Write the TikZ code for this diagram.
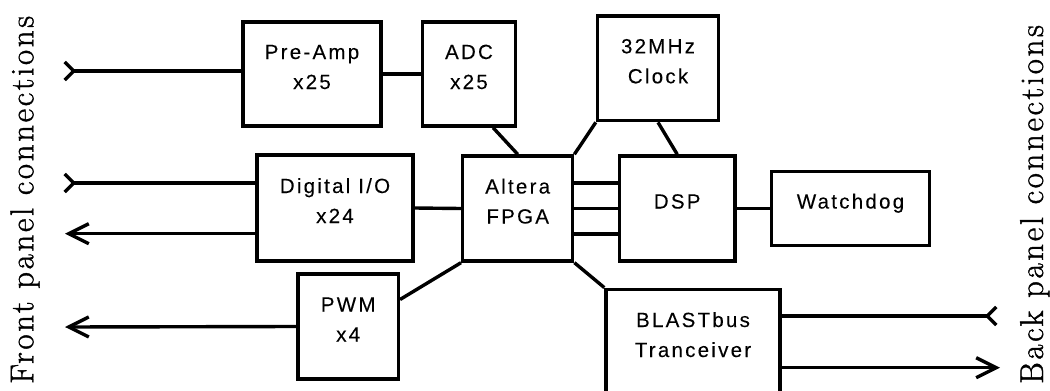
\documentclass[tikz,border=0pt]{standalone}
\usepackage{fontspec}
\setmainfont{Latin Modern Roman}
\newfontfamily\boxfont[LetterSpace=11,FakeBold=0.1]{Liberation Sans}
\newfontfamily\sidefont[LetterSpace=8,FakeBold=1.2]{Latin Modern Roman}
\usetikzlibrary{arrows.meta,calc}
\begin{document}
\begin{tikzpicture}[x=1pt,y=-1pt,
  blk/.style 2 args={draw,line width=3.4pt,inner sep=0pt,minimum width=#1,minimum height=#2},
  txt/.style={font=\boxfont\fontsize{20.5}{30}\selectfont,align=center,anchor=base,inner sep=0pt},
  wire/.style={line width=3.4pt},
  intail/.style={wire,arrows={Straight Barb[reversed,length=9pt,width=18pt]-}},
  intailr/.style={wire,arrows={-Straight Barb[reversed,length=9pt,width=18pt]}},
  outhead/.style={wire,arrows={-Straight Barb[length=20pt,width=20pt]}},
  side/.style={font=\sidefont\fontsize{33}{40}\selectfont,rotate=90,anchor=base west,inner sep=0pt}]
\clip (0,0) rectangle (1050,391);
% boxes
\node[blk={138}{104}] (pre) at (312,74) {};
\node[blk={93}{104}] (adc) at (469,74) {};
\node[blk={121}{104.7}] (clk) at (658,68.3) {};
\node[blk={155.7}{106}] (dig) at (335,208) {};
\node[blk={110}{105}] (fpga) at (517.7,208.5) {};
\node[blk={115.7}{105}] (dsp) at (677.2,208.5) {};
\node[blk={157.6}{73.6}] (wd) at (850.5,208.5) {};
\node[blk={100.3}{105}] (pwm) at (348.2,326.5) {};
\node[blk={174}{105.4}] (blast) at (693,342) {};
% texts (base = last line's baseline)
\node[txt] (preT) at ([yshift=-15pt]pre.center) {Pre-Amp\\x25};
\node[txt] (adcT) at ([yshift=-15pt]adc.center) {ADC\\x25};
\node[txt] (clkT) at ([yshift=-15pt]clk.center) {32MHz\\Clock};
\node[txt] (digT) at ([yshift=-15pt]dig.center) {Digital I/O\\x24};
\node[txt] (fpgaT) at ([yshift=-15pt]fpga.center) {Altera\\FPGA};
\node[txt] (dspT) at (dsp.center) {DSP};
\node[txt] (wdT) at (wd.center) {Watchdog};
\node[txt] (pwmT) at ([yshift=-15pt]pwm.center) {PWM\\x4};
\node[txt] (blastT) at ([yshift=-15pt]blast.center) {BLASTbus\\Tranceiver};
% side labels
\node[side] (front) at (33.3,384) {Front panel connections};
\node[side] (back) at (1043,384) {Back panel connections};
% free ends
\coordinate (inA) at (63,71);
\coordinate (inB) at (63,183);
\coordinate (outA) at (65,233.7);
\coordinate (outB) at (65,327);
\coordinate (binA) at (998,316);
\coordinate (boutB) at (1000,367.7);
% connectors
\draw[intail] (inA) -- (inA -| pre.west);
\draw[intail] (inB) -- (inB -| dig.west);
\draw[outhead] (outA -| dig.west) -- (outA);
\draw[outhead] (pwm.west) -- (outB);
\draw[intailr] (binA -| blast.east) -- (binA);
\draw[outhead] (boutB -| blast.east) -- (boutB);
\draw[wire] (pre.east) -- (adc.west);
\draw[wire] ($(adc.south west)!0.75!(adc.south east)$) -- (fpga.north);
\draw[wire] (clk.south west) -- (fpga.north east);
\draw[wire] (clk.south) -- (dsp.north);
\draw[wire] (dig.east) -- (fpga.west);
\draw[wire] ([yshift=25.5pt]fpga.east) -- ([yshift=25.5pt]dsp.west);
\draw[wire] (fpga.east) -- (dsp.west);
\draw[wire] ([yshift=-25.5pt]fpga.east) -- ([yshift=-25.5pt]dsp.west);
\draw[wire] (dsp.east) -- (wd.west);
\draw[wire] ([yshift=27pt]pwm.east) -- (fpga.south west);
\draw[wire] (fpga.south east) -- (blast.north west);
\end{tikzpicture}
\end{document}
